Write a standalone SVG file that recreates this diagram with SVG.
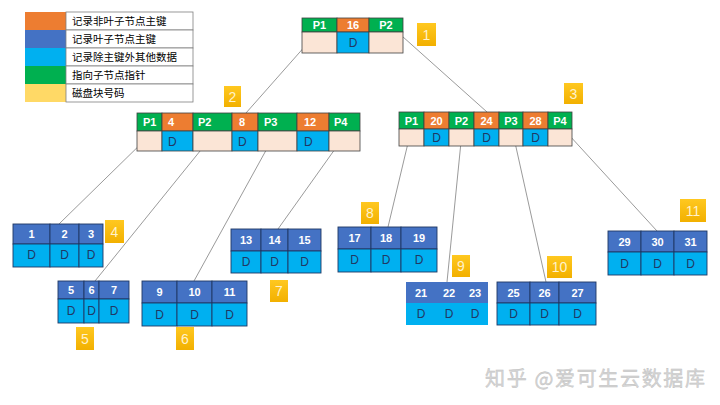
<svg xmlns="http://www.w3.org/2000/svg" width="720" height="405" viewBox="0 0 720 405">
<defs>
<linearGradient id="gold" x1="0" y1="0" x2="0" y2="1">
<stop offset="0" stop-color="#FFC820"/>
<stop offset="1" stop-color="#F2B000"/>
</linearGradient>
</defs>
<style>
.g{fill:#00B050;stroke:#404040;stroke-width:0.8}
.o{fill:#ED7D31;stroke:#404040;stroke-width:0.8}
.p{fill:#FBE5D6;stroke:#404040;stroke-width:0.8}
.d{fill:#00B0F0;stroke:#404040;stroke-width:0.8}
.lk{fill:#4472C4;stroke:#1F3864;stroke-width:0.9}
.ld{fill:#00B0F0;stroke:#1F3864;stroke-width:0.9}
.h{font-family:"Liberation Sans",Arial,sans-serif;font-size:11px;font-weight:bold;fill:#ffffff}
.c{text-anchor:middle}
.t{font-family:"Liberation Sans",Arial,sans-serif;font-size:12px;fill:#203864}
.lg{font-family:"Noto Sans CJK SC",sans-serif;font-size:10.5px;fill:#000000}
.b{fill:url(#gold)}
.bt{font-family:"Liberation Sans",Arial,sans-serif;font-size:14px;fill:#FFF2CC;text-anchor:middle}
.ln{stroke:#808080;stroke-width:0.8;fill:none}
</style>
<rect width="720" height="405" fill="#ffffff"/>

<g id="legend">
<rect x="25" y="12" width="41" height="18" fill="#ED7D31"/>
<rect x="25" y="30" width="41" height="18" fill="#4472C4"/>
<rect x="25" y="48" width="41" height="18" fill="#00B0F0"/>
<rect x="25" y="66" width="41" height="18" fill="#00B050"/>
<rect x="25" y="84" width="41" height="18" fill="#FFD966"/>
<g fill="#ffffff" stroke="#7f7f7f" stroke-width="0.8">
<rect x="66" y="12" width="127" height="18"/>
<rect x="66" y="30" width="127" height="18"/>
<rect x="66" y="48" width="127" height="18"/>
<rect x="66" y="66" width="127" height="18"/>
<rect x="66" y="84" width="127" height="18"/>
</g>
<text class="lg" x="72" y="25">记录非叶子节点主键</text>
<text class="lg" x="72" y="43">记录叶子节点主键</text>
<text class="lg" x="72" y="61">记录除主键外其他数据</text>
<text class="lg" x="72" y="79">指向子节点指针</text>
<text class="lg" x="72" y="97">磁盘块号码</text>
</g>

<g id="connectors">
<line class="ln" x1="322" y1="27" x2="246" y2="113"/>
<line class="ln" x1="393" y1="28" x2="487" y2="112"/>
<line class="ln" x1="150" y1="135" x2="59" y2="224"/>
<line class="ln" x1="213" y1="135" x2="95" y2="281"/>
<line class="ln" x1="275" y1="134" x2="194" y2="281"/>
<line class="ln" x1="345" y1="135" x2="278" y2="229"/>
<line class="ln" x1="413" y1="122" x2="388" y2="227"/>
<line class="ln" x1="463" y1="122" x2="447" y2="282"/>
<line class="ln" x1="510" y1="120" x2="546" y2="282"/>
<line class="ln" x1="558" y1="123" x2="657" y2="231"/>
</g>

<g id="node1">
<rect class="g" x="302" y="18" width="35" height="14"/>
<rect class="o" x="337" y="18" width="32" height="14"/>
<rect class="g" x="369" y="18" width="34" height="14"/>
<rect class="p" x="302" y="32" width="35" height="21"/>
<rect class="d" x="337" y="32" width="32" height="21"/>
<rect class="p" x="369" y="32" width="34" height="21"/>
<text class="h c" x="319.5" y="29">P1</text>
<text class="h c" x="353" y="29">16</text>
<text class="h c" x="386" y="29">P2</text>
<text class="t c" x="353" y="47">D</text>
<rect class="b" x="417" y="23" width="19" height="23"/>
<text class="bt" x="426.5" y="40">1</text>
</g>

<g id="node2">
<rect class="g" x="137" y="113" width="25" height="18"/>
<rect class="o" x="162" y="113" width="31" height="18"/>
<rect class="g" x="193" y="113" width="39" height="18"/>
<rect class="o" x="232" y="113" width="26" height="18"/>
<rect class="g" x="258" y="113" width="39" height="18"/>
<rect class="o" x="297" y="113" width="32" height="18"/>
<rect class="g" x="329" y="113" width="31" height="18"/>
<rect class="p" x="137" y="131" width="25" height="20"/>
<rect class="d" x="162" y="131" width="31" height="20"/>
<rect class="p" x="193" y="131" width="39" height="20"/>
<rect class="d" x="232" y="131" width="26" height="20"/>
<rect class="p" x="258" y="131" width="39" height="20"/>
<rect class="d" x="297" y="131" width="32" height="20"/>
<rect class="p" x="329" y="131" width="31" height="20"/>
<text class="h" x="143" y="126">P1</text>
<text class="h" x="168" y="126">4</text>
<text class="h" x="198" y="126">P2</text>
<text class="h" x="239" y="126">8</text>
<text class="h" x="264" y="126">P3</text>
<text class="h" x="304" y="126">12</text>
<text class="h" x="334" y="126">P4</text>
<text class="t" x="168" y="145.5">D</text>
<text class="t" x="238" y="145.5">D</text>
<text class="t" x="304" y="145.5">D</text>
<rect class="b" x="224" y="86" width="17" height="21"/>
<text class="bt" x="232.5" y="102">2</text>
</g>

<g id="node3">
<rect class="g" x="399" y="112" width="25" height="17"/>
<rect class="o" x="424" y="112" width="25" height="17"/>
<rect class="g" x="449" y="112" width="25" height="17"/>
<rect class="o" x="474" y="112" width="25" height="17"/>
<rect class="g" x="499" y="112" width="24" height="17"/>
<rect class="o" x="523" y="112" width="25" height="17"/>
<rect class="g" x="548" y="112" width="24" height="17"/>
<rect class="p" x="399" y="129" width="25" height="17"/>
<rect class="d" x="424" y="129" width="25" height="17"/>
<rect class="p" x="449" y="129" width="25" height="17"/>
<rect class="d" x="474" y="129" width="25" height="17"/>
<rect class="p" x="499" y="129" width="24" height="17"/>
<rect class="d" x="523" y="129" width="25" height="17"/>
<rect class="p" x="548" y="129" width="24" height="17"/>
<text class="h c" x="411.5" y="124.5">P1</text>
<text class="h c" x="436.5" y="124.5">20</text>
<text class="h c" x="461.5" y="124.5">P2</text>
<text class="h c" x="486.5" y="124.5">24</text>
<text class="h c" x="511" y="124.5">P3</text>
<text class="h c" x="535.5" y="124.5">28</text>
<text class="h c" x="560" y="124.5">P4</text>
<text class="t c" x="436.5" y="142">D</text>
<text class="t c" x="486.5" y="142">D</text>
<text class="t c" x="535.5" y="142">D</text>
<rect class="b" x="564" y="83" width="19" height="21"/>
<text class="bt" x="573.5" y="99">3</text>
</g>

<g id="leaf4">
<rect class="lk" x="13" y="224" width="37" height="20"/>
<rect class="lk" x="50" y="224" width="29" height="20"/>
<rect class="lk" x="79" y="224" width="24" height="20"/>
<rect class="ld" x="13" y="244" width="37" height="23"/>
<rect class="ld" x="50" y="244" width="29" height="23"/>
<rect class="ld" x="79" y="244" width="24" height="23"/>
<text class="h c" x="31.5" y="238">1</text>
<text class="h c" x="64.5" y="238">2</text>
<text class="h c" x="91" y="238">3</text>
<text class="t c" x="31.5" y="259">D</text>
<text class="t c" x="64.5" y="259">D</text>
<text class="t c" x="91" y="259">D</text>
<rect class="b" x="105" y="220" width="19" height="23"/>
<text class="bt" x="114.5" y="237">4</text>
</g>

<g id="leaf5">
<rect class="lk" x="58" y="281" width="26" height="18"/>
<rect class="lk" x="84" y="281" width="15" height="18"/>
<rect class="lk" x="99" y="281" width="30" height="18"/>
<rect class="ld" x="58" y="299" width="26" height="24"/>
<rect class="ld" x="84" y="299" width="15" height="24"/>
<rect class="ld" x="99" y="299" width="30" height="24"/>
<text class="h c" x="71" y="294">5</text>
<text class="h c" x="91.5" y="294">6</text>
<text class="h c" x="114" y="294">7</text>
<text class="t c" x="71" y="315">D</text>
<text class="t c" x="91.5" y="315">D</text>
<text class="t c" x="114" y="315">D</text>
<rect class="b" x="76" y="327" width="18" height="23"/>
<text class="bt" x="85" y="344">5</text>
</g>

<g id="leaf6">
<rect class="lk" x="142" y="281" width="35" height="22"/>
<rect class="lk" x="177" y="281" width="35" height="22"/>
<rect class="lk" x="212" y="281" width="35" height="22"/>
<rect class="ld" x="142" y="303" width="35" height="23"/>
<rect class="ld" x="177" y="303" width="35" height="23"/>
<rect class="ld" x="212" y="303" width="35" height="23"/>
<text class="h c" x="159.5" y="296">9</text>
<text class="h c" x="194.5" y="296">10</text>
<text class="h c" x="229.5" y="296">11</text>
<text class="t c" x="159.5" y="318.5">D</text>
<text class="t c" x="194.5" y="318.5">D</text>
<text class="t c" x="229.5" y="318.5">D</text>
<rect class="b" x="176" y="327" width="18" height="23"/>
<text class="bt" x="185" y="344">6</text>
</g>

<g id="leaf7">
<rect class="lk" x="231" y="229" width="30" height="22"/>
<rect class="lk" x="261" y="229" width="27" height="22"/>
<rect class="lk" x="288" y="229" width="33" height="22"/>
<rect class="ld" x="231" y="251" width="30" height="22"/>
<rect class="ld" x="261" y="251" width="27" height="22"/>
<rect class="ld" x="288" y="251" width="33" height="22"/>
<text class="h c" x="246" y="244">13</text>
<text class="h c" x="274.5" y="244">14</text>
<text class="h c" x="304.5" y="244">15</text>
<text class="t c" x="246" y="266">D</text>
<text class="t c" x="274.5" y="266">D</text>
<text class="t c" x="304.5" y="266">D</text>
<rect class="b" x="270" y="280" width="18" height="22"/>
<text class="bt" x="279" y="296">7</text>
</g>

<g id="leaf8">
<rect class="lk" x="338" y="227" width="33" height="22"/>
<rect class="lk" x="371" y="227" width="30" height="22"/>
<rect class="lk" x="401" y="227" width="36" height="22"/>
<rect class="ld" x="338" y="249" width="33" height="23"/>
<rect class="ld" x="371" y="249" width="30" height="23"/>
<rect class="ld" x="401" y="249" width="36" height="23"/>
<text class="h c" x="354.5" y="242">17</text>
<text class="h c" x="386" y="242">18</text>
<text class="h c" x="419" y="242">19</text>
<text class="t c" x="354.5" y="264">D</text>
<text class="t c" x="386" y="264">D</text>
<text class="t c" x="419" y="264">D</text>
<rect class="b" x="361" y="202" width="18" height="22"/>
<text class="bt" x="370" y="218">8</text>
</g>

<g id="leaf9">
<rect x="406" y="282" width="82" height="21" fill="#4472C4"/>
<rect x="406" y="303" width="82" height="22" fill="#00B0F0"/>
<text class="h c" x="421" y="296.5">21</text>
<text class="h c" x="449" y="296.5">22</text>
<text class="h c" x="475" y="296.5">23</text>
<text class="t c" x="421" y="318">D</text>
<text class="t c" x="449" y="318">D</text>
<text class="t c" x="475" y="318">D</text>
<rect class="b" x="452" y="255" width="18" height="22"/>
<text class="bt" x="461" y="271">9</text>
</g>

<g id="leaf10">
<rect class="lk" x="497" y="282" width="33" height="21"/>
<rect class="lk" x="530" y="282" width="29" height="21"/>
<rect class="lk" x="559" y="282" width="37" height="21"/>
<rect class="ld" x="497" y="303" width="33" height="22"/>
<rect class="ld" x="530" y="303" width="29" height="22"/>
<rect class="ld" x="559" y="303" width="37" height="22"/>
<text class="h c" x="513.5" y="296.5">25</text>
<text class="h c" x="544.5" y="296.5">26</text>
<text class="h c" x="577.5" y="296.5">27</text>
<text class="t c" x="513.5" y="318">D</text>
<text class="t c" x="544.5" y="318">D</text>
<text class="t c" x="577.5" y="318">D</text>
<rect class="b" x="547" y="256" width="25" height="22"/>
<text class="bt" x="559.5" y="272">10</text>
</g>

<g id="leaf11">
<rect class="lk" x="608" y="231" width="33" height="21"/>
<rect class="lk" x="641" y="231" width="33" height="21"/>
<rect class="lk" x="674" y="231" width="33" height="21"/>
<rect class="ld" x="608" y="252" width="33" height="23"/>
<rect class="ld" x="641" y="252" width="33" height="23"/>
<rect class="ld" x="674" y="252" width="33" height="23"/>
<text class="h c" x="624.5" y="245.5">29</text>
<text class="h c" x="657.5" y="245.5">30</text>
<text class="h c" x="690.5" y="245.5">31</text>
<text class="t c" x="624.5" y="267.5">D</text>
<text class="t c" x="657.5" y="267.5">D</text>
<text class="t c" x="690.5" y="267.5">D</text>
<rect class="b" x="680" y="199" width="26" height="23"/>
<text class="bt" x="693" y="216">11</text>
</g>

<text x="485" y="386" font-family="'Noto Sans CJK SC',sans-serif" font-size="20" textLength="220" lengthAdjust="spacing" fill="#d6d6d6" stroke="#bdbdbd" stroke-width="0.4">知乎 @爱可生云数据库</text>
</svg>
